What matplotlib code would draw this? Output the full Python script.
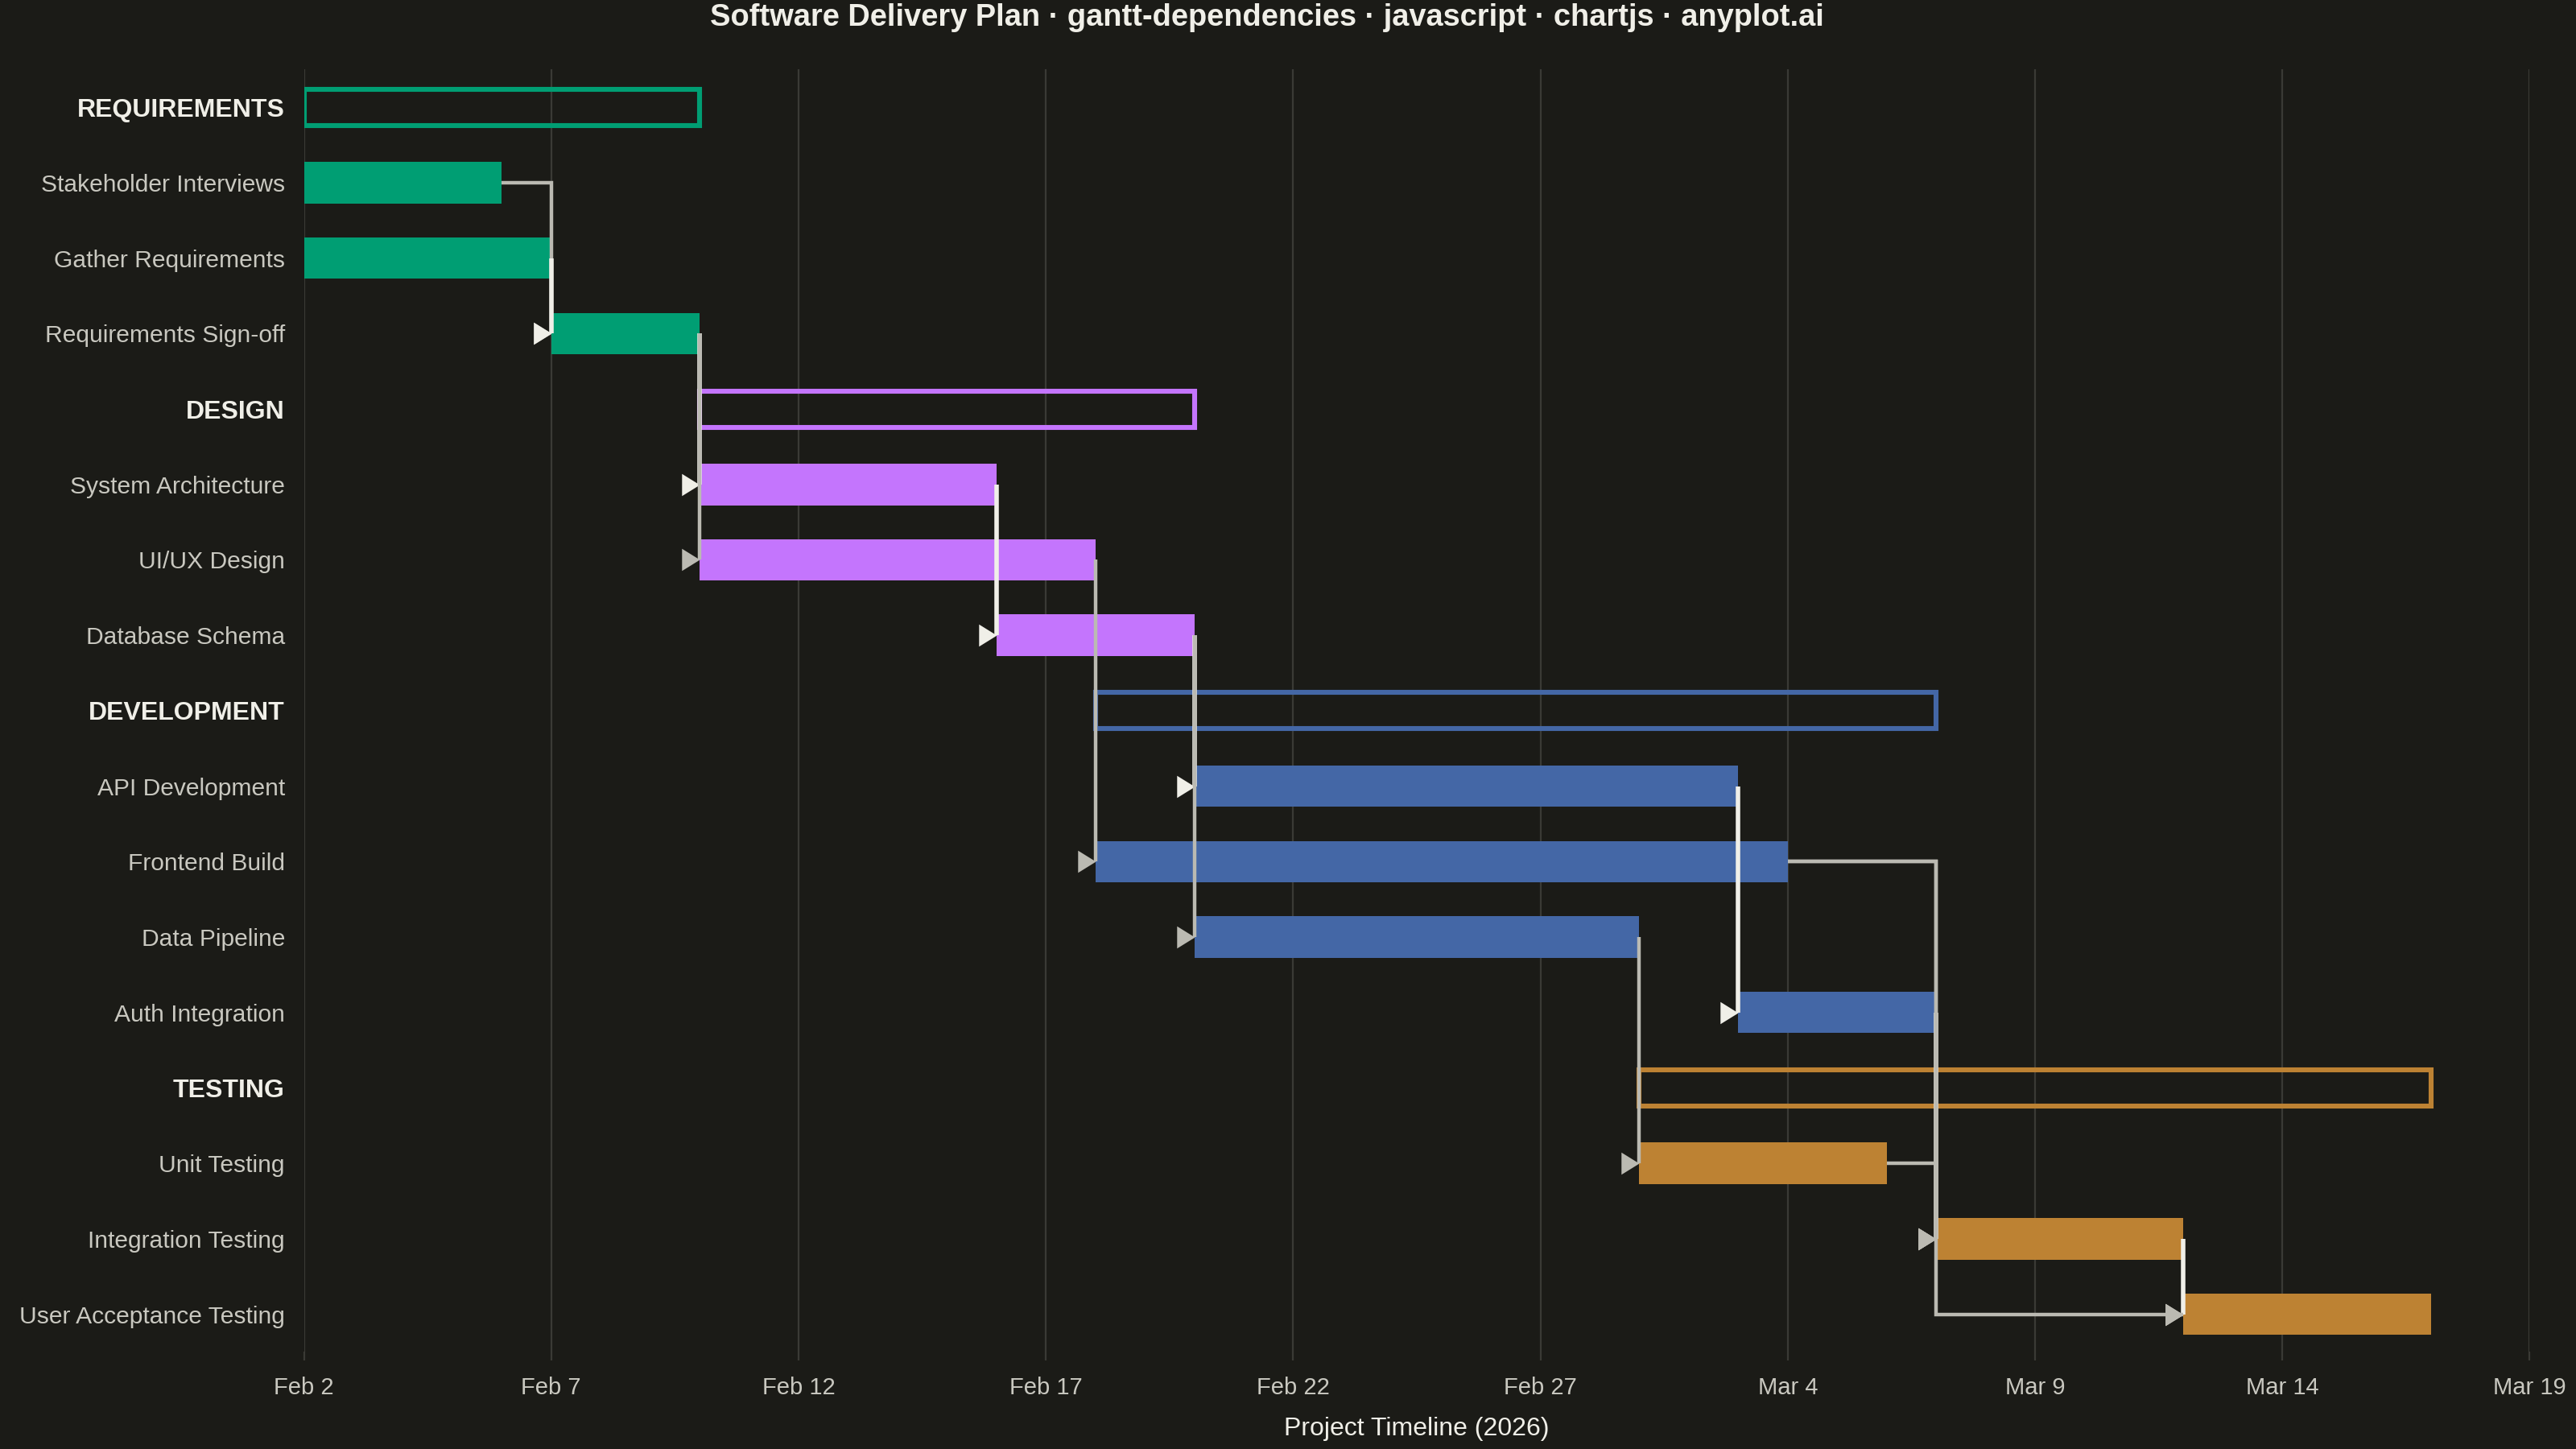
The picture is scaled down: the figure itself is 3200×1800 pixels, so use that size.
"""
plot.py
Software Delivery Plan - gantt chart with task dependencies
"""

from datetime import datetime, timedelta

import matplotlib
matplotlib.use("Agg")
import matplotlib.pyplot as plt
import matplotlib.dates as mdates
from matplotlib.ticker import FuncFormatter

# -------------------------------------------------
# Data
# -------------------------------------------------

GROUPS = ["REQUIREMENTS", "DESIGN", "DEVELOPMENT", "TESTING"]
GROUP_COLORS = ["#009E73", "#C475FD", "#4467A6", "#BD8233"]

TASKS = [
    "Stakeholder Interviews",
    "Gather Requirements",
    "Requirements Sign-off",
    "System Architecture",
    "UI/UX Design",
    "Database Schema",
    "API Development",
    "Frontend Build",
    "Data Pipeline",
    "Auth Integration",
    "Unit Testing",
    "Integration Testing",
    "User Acceptance Testing",
]
TASK_GROUP = [
    "REQUIREMENTS", "REQUIREMENTS", "REQUIREMENTS",
    "DESIGN", "DESIGN", "DESIGN",
    "DEVELOPMENT", "DEVELOPMENT", "DEVELOPMENT", "DEVELOPMENT",
    "TESTING", "TESTING", "TESTING",
]
TASK_START = [
    "2026-02-02", "2026-02-02", "2026-02-07",
    "2026-02-10", "2026-02-10", "2026-02-16",
    "2026-02-20", "2026-02-18", "2026-02-20", "2026-03-03",
    "2026-03-01", "2026-03-07", "2026-03-12",
]
TASK_END = [
    "2026-02-06", "2026-02-07", "2026-02-10",
    "2026-02-16", "2026-02-18", "2026-02-20",
    "2026-03-03", "2026-03-04", "2026-03-01", "2026-03-07",
    "2026-03-06", "2026-03-12", "2026-03-17",
]

# drawn in this order (later ones on top)
DEPENDENCIES = [
    ("Stakeholder Interviews", "Requirements Sign-off"),
    ("Gather Requirements", "Requirements Sign-off"),
    ("Requirements Sign-off", "System Architecture"),
    ("Requirements Sign-off", "UI/UX Design"),
    ("System Architecture", "Database Schema"),
    ("Database Schema", "API Development"),
    ("UI/UX Design", "Frontend Build"),
    ("Database Schema", "Data Pipeline"),
    ("API Development", "Auth Integration"),
    ("Data Pipeline", "Unit Testing"),
    ("Auth Integration", "Integration Testing"),
    ("Frontend Build", "Integration Testing"),
    ("Unit Testing", "Integration Testing"),
    ("Integration Testing", "User Acceptance Testing"),
    ("Frontend Build", "User Acceptance Testing"),
]

CRITICAL_PATH = [
    "Gather Requirements",
    "Requirements Sign-off",
    "System Architecture",
    "Database Schema",
    "API Development",
    "Auth Integration",
    "Integration Testing",
    "User Acceptance Testing",
]

AXIS_START = "2026-02-02"
AXIS_END = "2026-03-19"
TICK_STEP_DAYS = 5
ELBOW_DAYS = 3

TITLE = "Software Delivery Plan · gantt-dependencies · javascript · chartjs · anyplot.ai"
X_LABEL = "Project Timeline (2026)"

# -------------------------------------------------
# Style
# -------------------------------------------------

BG = "#1B1B17"
GRID = "#3A3A35"
TEXT_MAIN = "#F0EFE8"
TEXT_SOFT = "#C9C8C0"
LINK_GRAY = "#BBBAB2"
LINK_CRIT = "#F0EFE8"

plt.rcParams["font.family"] = ["Liberation Sans", "DejaVu Sans"]


def to_date(s):
    return datetime.strptime(s, "%Y-%m-%d")


# -------------------------------------------------
# Rows
# -------------------------------------------------

row_labels = []
row_is_group = []
task_row = {}
group_row = {}

for g in GROUPS:
    group_row[g] = len(row_labels)
    row_labels.append(g)
    row_is_group.append(True)
    for i, t in enumerate(TASKS):
        if TASK_GROUP[i] == g:
            task_row[t] = len(row_labels)
            row_labels.append(t)
            row_is_group.append(False)

starts = {t: mdates.date2num(to_date(s)) for t, s in zip(TASKS, TASK_START)}
ends = {t: mdates.date2num(to_date(e)) for t, e in zip(TASKS, TASK_END)}

# -------------------------------------------------
# Figure
# -------------------------------------------------

fig, ax = plt.subplots(figsize=(16, 9), dpi=200)
fig.patch.set_facecolor(BG)
ax.set_facecolor(BG)
fig.subplots_adjust(left=0.118, right=0.982, top=0.952, bottom=0.067)

# task bars
for i, t in enumerate(TASKS):
    color = GROUP_COLORS[GROUPS.index(TASK_GROUP[i])]
    ax.barh(task_row[t], ends[t] - starts[t], left=starts[t], height=0.55,
            color=color, edgecolor="none", zorder=3)

# group summary bars (outline only)
for g, color in zip(GROUPS, GROUP_COLORS):
    members = [t for i, t in enumerate(TASKS) if TASK_GROUP[i] == g]
    g_start = min(starts[t] for t in members)
    g_end = max(ends[t] for t in members)
    ax.barh(group_row[g], g_end - g_start, left=g_start, height=0.48,
            facecolor="none", edgecolor=color, linewidth=2.2, zorder=3)

# dependency connectors
arrow_marker = [(0, 0), (-1, 0.62), (-1, -0.62), (0, 0)]
for k, (src, tgt) in enumerate(DEPENDENCIES):
    critical = src in CRITICAL_PATH and tgt in CRITICAL_PATH
    color = LINK_CRIT if critical else LINK_GRAY
    lw = 2.0 if critical else 1.6
    x0, y0 = ends[src], task_row[src]
    x1, y1 = starts[tgt], task_row[tgt]
    xm = min(x1, x0 + ELBOW_DAYS)
    z = 5 + k * 0.01
    ax.plot([x0, xm, xm, x1], [y0, y0, y1, y1], color=color, lw=lw,
            solid_joinstyle="miter", solid_capstyle="butt", zorder=z)
    ax.plot([x1], [y1], marker=arrow_marker, markersize=16, color=color,
            markeredgewidth=0, linestyle="none", zorder=z)

# -------------------------------------------------
# Axes
# -------------------------------------------------

ax.set_ylim(len(row_labels) - 0.5, -0.5)
ax.set_yticks(range(len(row_labels)))
ax.set_yticklabels(row_labels)
for lbl, is_group in zip(ax.get_yticklabels(), row_is_group):
    if is_group:
        lbl.set_fontweight("bold")
        lbl.set_color(TEXT_MAIN)
        lbl.set_fontsize(11.5)
    else:
        lbl.set_color(TEXT_SOFT)
        lbl.set_fontsize(10.8)
ax.tick_params(axis="y", length=0, pad=8.5)

x_start = to_date(AXIS_START)
x_end = to_date(AXIS_END)
ax.set_xlim(mdates.date2num(x_start), mdates.date2num(x_end))
ticks = []
d = x_start
while d <= x_end:
    ticks.append(mdates.date2num(d))
    d += timedelta(days=TICK_STEP_DAYS)
ax.set_xticks(ticks)
ax.xaxis.set_major_formatter(FuncFormatter(
    lambda v, pos: "{:%b} {}".format(mdates.num2date(v), mdates.num2date(v).day)))
ax.tick_params(axis="x", colors=GRID, labelcolor=TEXT_SOFT, labelsize=10.5,
               length=4, width=0.8, pad=7)

ax.grid(axis="x", color=GRID, linewidth=0.8, zorder=0)
ax.set_axisbelow(True)
for spine in ax.spines.values():
    spine.set_visible(False)

ax.set_xlabel(X_LABEL, color=TEXT_MAIN, fontsize=11.5, labelpad=8)
fig.text(0.492, 0.988, TITLE, ha="center", va="center", color=TEXT_MAIN,
         fontsize=13.7, fontweight="bold")

fig.savefig("out.png", dpi=200, facecolor=BG)
